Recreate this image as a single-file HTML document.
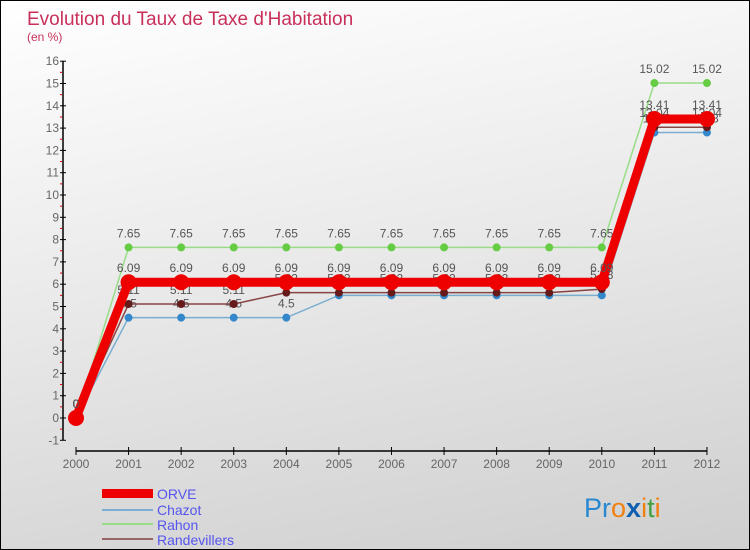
<!DOCTYPE html>
<html><head><meta charset="utf-8">
<style>
body{margin:0}
#wrap{position:relative;width:748px;height:548px;border:1px solid #000;background:linear-gradient(170deg,#ffffff 0%,#eaeaea 45%,#cfcfcf 100%);font-family:"Liberation Sans",sans-serif;overflow:hidden}
</style></head><body>
<div id="wrap">
<svg id="chart" width="748" height="548">
<text x="26" y="24" font-size="19" fill="#c8305a">Evolution du Taux de Taxe d'Habitation</text>
<text x="26" y="40" font-size="12" fill="#c8305a">(en %)</text>
<g id="axes"></g>
<g id="series"></g>
<g>
<rect x="101" y="488" width="51" height="9" fill="#e00"/>
<text x="156" y="498" font-size="14" fill="#5555ee">ORVE</text>
<rect x="101" y="508" width="51" height="2" fill="#7aaed0"/>
<text x="156" y="514" font-size="14" fill="#5555ee">Chazot</text>
<rect x="101" y="522" width="51" height="2" fill="#99dd88"/>
<text x="156" y="529" font-size="14" fill="#5555ee">Rahon</text>
<rect x="101" y="537" width="51" height="2" fill="#996666"/>
<text x="156" y="544" font-size="14" fill="#5555ee">Randevillers</text>
</g>
<text x="583" y="516" font-size="27"><tspan fill="#2a88d0">Pr</tspan><tspan fill="#f08010">o</tspan><tspan fill="#1060b0" font-weight="bold">x</tspan><tspan fill="#f08010">i</tspan><tspan fill="#40a040">t</tspan><tspan fill="#f08010">i</tspan></text>
</svg>
</div>
<script>
const years=[2000,2001,2002,2003,2004,2005,2006,2007,2008,2009,2010,2011,2012];
const orve=[0,6.09,6.09,6.09,6.09,6.09,6.09,6.09,6.09,6.09,6.09,13.41,13.41];
const chazot=[0,4.5,4.5,4.5,4.5,5.5,5.5,5.5,5.5,5.5,5.5,12.8,12.8];
const rahon=[0,7.65,7.65,7.65,7.65,7.65,7.65,7.65,7.65,7.65,7.65,15.02,15.02];
const randevillers=[0,5.11,5.11,5.11,5.62,5.62,5.62,5.62,5.62,5.62,5.78,13.04,13.04];
const yTicks=[-1,0,1,2,3,4,5,6,7,8,9,10,11,12,13,14,15,16];
const NS="http://www.w3.org/2000/svg";
function X(i){return 75+i*52.58;}
function Y(v){return 417-v*22.3;}
function mk(tag,attrs,parent){const e=document.createElementNS(NS,tag);for(const k in attrs)e.setAttribute(k,attrs[k]);parent.appendChild(e);return e;}
const axes=document.getElementById('axes');
let a=mk('line',{x1:62,y1:Y(16),x2:62,y2:Y(-1),stroke:'#000','stroke-width':1.5},axes);


a=mk('line',{x1:75,y1:450,x2:X(12),y2:450,stroke:'#000','stroke-width':1.5},axes);


yTicks.forEach(t=>{
 mk('line',{x1:59,y1:Y(t),x2:65,y2:Y(t),stroke:'#000'},axes);
 if(t<16) mk('line',{x1:59,y1:Y(t+0.5),x2:61,y2:Y(t+0.5),stroke:'#e00'},axes);
 const tx=mk('text',{x:58,y:Y(t)+4,'font-size':12,fill:'#666','text-anchor':'end'},axes);
 tx.textContent=t;
 
 
});
years.forEach((y,i)=>{
 mk('line',{x1:X(i),y1:446,x2:X(i),y2:454,stroke:'#000'},axes);
 const tx=mk('text',{x:X(i),y:467,'font-size':12,fill:'#666','text-anchor':'middle'},axes);
 tx.textContent=y;
 
 
});
const sg=document.getElementById('series');
function draw(vals,name,color,lw,r,dot){
 const g=mk('g',{},sg);
 
 
 const pl=mk('polyline',{points:vals.map((v,i)=>X(i)+','+Y(v)).join(' '),fill:'none',stroke:color,'stroke-width':lw},g);
 
 
 vals.forEach((v,i)=>{
  const c=mk('circle',{cx:X(i),cy:Y(v),r:r,fill:dot},g);
  
  
  const t=mk('text',{x:X(i),y:Y(v)-10,'font-size':12,fill:'#555','text-anchor':'middle'},g);
  t.textContent=v;
  
  
 });
}
draw(rahon,'rahon','#99dd88',1.5,4,'#66cc44');
draw(chazot,'chazot','#7aaed0',1.5,4,'#3388cc');
draw(randevillers,'randevillers','#884444',1.5,4,'#661a1a');
draw(orve,'orve','#ee0000',9,8,'#ee0000');
</script>
</body></html>
